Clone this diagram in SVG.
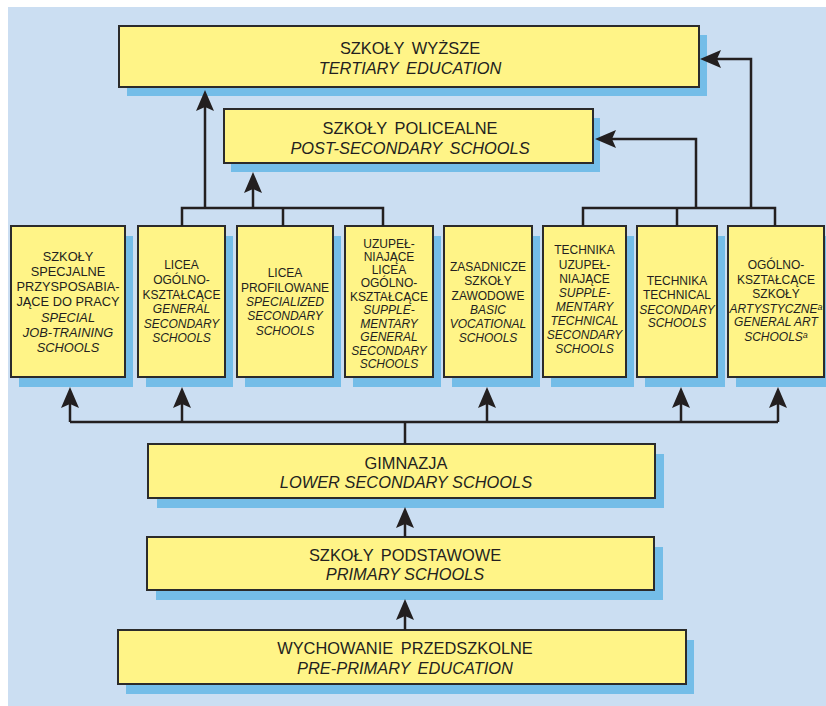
<svg xmlns="http://www.w3.org/2000/svg" width="826" height="706" viewBox="0 0 826 706">
<style>
.bg{fill:#cbdef2}
.sh{fill:#74bde8}
.bx{fill:#fff487;stroke:#2b2b2b;stroke-width:2}
text{font-family:"Liberation Sans",Arial,sans-serif;fill:#231f20;text-anchor:middle}
.big{font-size:16.4px}
.ws{word-spacing:3px}
.sm{font-size:12px}
.sm13{font-size:12.8px}
.it{font-style:italic}
.sup{font-size:9px}
.ln{stroke:#231f20;stroke-width:2.5;fill:none}
.ar{stroke:#231f20;stroke-width:2.5;fill:none;marker-end:url(#ah)}
</style>
<defs>
<marker id="ah" markerUnits="userSpaceOnUse" markerWidth="22" markerHeight="18" viewBox="0 0 22 18" refX="4" refY="9" orient="auto">
<path d="M0,0 L21,9 L0,18 L4,9 Z" fill="#231f20"/>
</marker>
</defs>
<rect class="bg" x="8" y="7" width="818" height="699"/>

<g id="n-tertiary">
<rect class="sh" x="127" y="35" width="580" height="61"/>
<rect class="bx" x="119" y="26" width="580" height="61"/>
<text class="big ws" x="410" y="54">SZKOŁY WYŻSZE</text>
<text class="big ws it" x="410" y="74">TERTIARY EDUCATION</text>
</g>

<g id="n-postsecondary">
<rect class="sh" x="231" y="118" width="369" height="54"/>
<rect class="bx" x="224" y="109" width="369" height="54"/>
<text class="big ws" x="410" y="134">SZKOŁY POLICEALNE</text>
<text class="big ws it" x="410" y="154">POST-SECONDARY SCHOOLS</text>
</g>

<g id="n-special">
<rect class="sh" x="19" y="236" width="114" height="151"/>
<rect class="bx" x="11" y="226" width="114" height="151"/>
<text class="sm13" x="68" y="261">SZKOŁY</text>
<text class="sm13" x="68" y="276">SPECJALNE</text>
<text class="sm13" x="68" y="291">PRZYSPOSABIA-</text>
<text class="sm13" x="68" y="306">JĄCE DO PRACY</text>
<text class="sm13 it" x="68" y="321.5">SPECIAL</text>
<text class="sm13 it" x="68" y="336.5">JOB-TRAINING</text>
<text class="sm13 it" x="68" y="352">SCHOOLS</text>
</g>

<g id="n-general">
<rect class="sh" x="146" y="236" width="87" height="151"/>
<rect class="bx" x="138" y="226" width="87" height="151"/>
<text class="sm" x="181.5" y="269">LICEA</text>
<text class="sm" x="181.5" y="284">OGÓLNO-</text>
<text class="sm" x="181.5" y="298.5">KSZTAŁCĄCE</text>
<text class="sm it" x="181.5" y="313">GENERAL</text>
<text class="sm it" x="181.5" y="327.5">SECONDARY</text>
<text class="sm it" x="181.5" y="342">SCHOOLS</text>
</g>

<g id="n-specialized">
<rect class="sh" x="245" y="236" width="96" height="151"/>
<rect class="bx" x="237" y="226" width="96" height="151"/>
<text class="sm" x="285" y="277">LICEA</text>
<text class="sm" x="285" y="291.5">PROFILOWANE</text>
<text class="sm it" x="285" y="305.5">SPECIALIZED</text>
<text class="sm it" x="285" y="320">SECONDARY</text>
<text class="sm it" x="285" y="334.5">SCHOOLS</text>
</g>

<g id="n-supp-general">
<rect class="sh" x="353" y="236" width="88" height="151"/>
<rect class="bx" x="345" y="226" width="88" height="151"/>
<text class="sm" x="389" y="247.5">UZUPEŁ-</text>
<text class="sm" x="389" y="260.5">NIAJĄCE</text>
<text class="sm" x="389" y="273.5">LICEA</text>
<text class="sm" x="389" y="287">OGÓLNO-</text>
<text class="sm" x="389" y="300.5">KSZTAŁCĄCE</text>
<text class="sm it" x="389" y="314">SUPPLE-</text>
<text class="sm it" x="389" y="327.5">MENTARY</text>
<text class="sm it" x="389" y="341">GENERAL</text>
<text class="sm it" x="389" y="354.5">SECONDARY</text>
<text class="sm it" x="389" y="368">SCHOOLS</text>
</g>

<g id="n-vocational">
<rect class="sh" x="452" y="236" width="88" height="151"/>
<rect class="bx" x="444" y="226" width="88" height="151"/>
<text class="sm" x="488" y="270.5">ZASADNICZE</text>
<text class="sm" x="488" y="285">SZKOŁY</text>
<text class="sm" x="488" y="299.5">ZAWODOWE</text>
<text class="sm it" x="488" y="313.5">BASIC</text>
<text class="sm it" x="488" y="327.5">VOCATIONAL</text>
<text class="sm it" x="488" y="341.5">SCHOOLS</text>
</g>

<g id="n-supp-technical">
<rect class="sh" x="551" y="236" width="83" height="151"/>
<rect class="bx" x="543" y="226" width="83" height="151"/>
<text class="sm" x="584.5" y="254">TECHNIKA</text>
<text class="sm" x="584.5" y="268.5">UZUPEŁ-</text>
<text class="sm" x="584.5" y="282.5">NIAJĄCE</text>
<text class="sm it" x="584.5" y="296.5">SUPPLE-</text>
<text class="sm it" x="584.5" y="310.5">MENTARY</text>
<text class="sm it" x="584.5" y="324.5">TECHNICAL</text>
<text class="sm it" x="584.5" y="339">SECONDARY</text>
<text class="sm it" x="584.5" y="353">SCHOOLS</text>
</g>

<g id="n-technical">
<rect class="sh" x="645" y="236" width="80" height="151"/>
<rect class="bx" x="637" y="226" width="80" height="151"/>
<text class="sm" x="677" y="285">TECHNIKA</text>
<text class="sm" x="677" y="299">TECHNICAL</text>
<text class="sm it" x="677" y="313.5">SECONDARY</text>
<text class="sm it" x="677" y="327">SCHOOLS</text>
</g>

<g id="n-art">
<rect class="sh" x="736" y="236" width="96" height="151"/>
<rect class="bx" x="728" y="226" width="96" height="151"/>
<text class="sm" x="776" y="269">OGÓLNO-</text>
<text class="sm" x="776" y="283.5">KSZTAŁCĄCE</text>
<text class="sm" x="776" y="297.5">SZKOŁY</text>
<text class="sm it" x="776" y="312.5">ARTYSTYCZNE<tspan class="sup" dy="-3">a</tspan></text>
<text class="sm it" x="776" y="326">GENERAL ART</text>
<text class="sm it" x="776" y="341">SCHOOLS<tspan class="sup" dy="-3">a</tspan></text>
</g>

<g id="n-gimnazja">
<rect class="sh" x="157" y="454" width="507" height="54"/>
<rect class="bx" x="148" y="444" width="507" height="54"/>
<text class="big" x="406" y="468.5">GIMNAZJA</text>
<text class="big it" x="406" y="488">LOWER SECONDARY SCHOOLS</text>
</g>

<g id="n-primary">
<rect class="sh" x="156" y="547" width="507" height="53"/>
<rect class="bx" x="147" y="537" width="507" height="53"/>
<text class="big ws" x="405" y="561">SZKOŁY PODSTAWOWE</text>
<text class="big it" x="405" y="580">PRIMARY SCHOOLS</text>
</g>

<g id="n-preprimary">
<rect class="sh" x="126" y="640" width="568" height="54"/>
<rect class="bx" x="118" y="630" width="568" height="54"/>
<text class="big ws" x="405" y="653.5">WYCHOWANIE PRZEDSZKOLNE</text>
<text class="big ws it" x="405" y="673.5">PRE-PRIMARY EDUCATION</text>
</g>

<g id="connectors">
<path class="ln" d="M70,422 H778 M405,444 V422"/>
<path class="ar" d="M70,422 V404"/>
<path class="ar" d="M182,422 V404"/>
<path class="ar" d="M487,422 V404"/>
<path class="ar" d="M681,422 V404"/>
<path class="ar" d="M778,422 V404"/>
<path class="ar" d="M405,537 V524"/>
<path class="ar" d="M405,630 V616"/>
<path class="ln" d="M182,226 V208 H383 V226 M283,208 V226"/>
<path class="ar" d="M205,208 V107"/>
<path class="ar" d="M253,208 V189"/>
<path class="ln" d="M583,226 V208 H775 V226 M677,208 V226"/>
<path class="ar" d="M696,208 V139 H612"/>
<path class="ar" d="M751,208 V59 H717"/>
</g>
</svg>
